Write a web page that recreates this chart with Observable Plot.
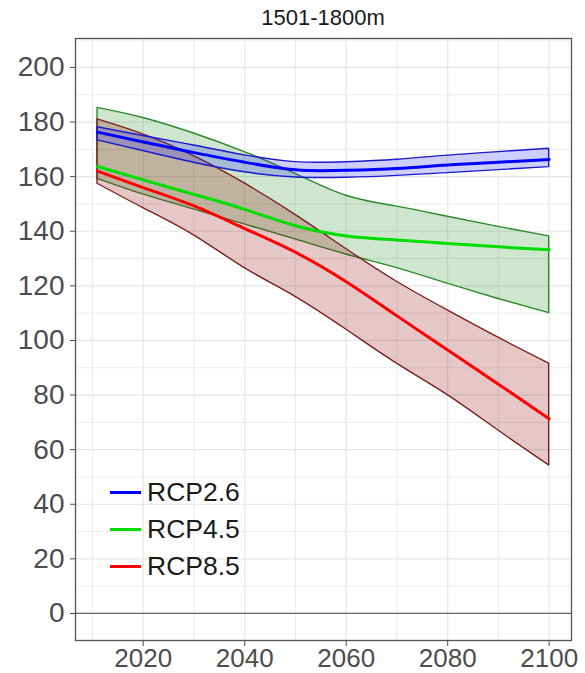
<!DOCTYPE html>
<html><head><meta charset="utf-8">
<script src="https://cdn.jsdelivr.net/npm/d3@7"></script>
<script src="https://cdn.jsdelivr.net/npm/@observablehq/plot@0.6"></script>
<style>
body{margin:0;background:#fff;}
#wrap{position:relative;width:585px;height:673px;font-family:"Liberation Sans",Arial,sans-serif;}
#title{position:absolute;left:75px;width:496px;top:5px;text-align:center;font-size:22px;color:#1a1a1a;}
#legend{position:absolute;left:110px;top:474px;}
.row{display:flex;align-items:center;height:37px;font-size:26.5px;color:#1a1a1a;}
.sw{width:31px;height:3.5px;margin-right:6px;}
</style></head><body>
<div id="wrap"><div id="chart"></div><div id="title">1501-1800m</div><div id="legend"></div></div>
<script>
const years = [2011, 2020, 2030, 2040, 2050, 2060, 2070, 2080, 2090, 2100];

const rcp26Hi   = [178.1, 174.9, 171.4, 167.8, 165.3, 165.3, 166.2, 167.7, 169.0, 170.2];
const rcp26Mean = [176.3, 172.7, 168.8, 165.3, 162.5, 162.3, 163.0, 164.3, 165.3, 166.3];
const rcp26Lo   = [173.3, 169.4, 165.1, 161.6, 159.7, 159.6, 160.3, 161.3, 162.4, 163.5];

const rcp45Hi   = [185.2, 181.5, 175.8, 169.0, 161.0, 153.0, 149.0, 145.3, 141.6, 138.1];
const rcp45Mean = [163.7, 158.8, 153.5, 148.0, 142.0, 138.3, 136.8, 135.5, 134.3, 133.2];
const rcp45Lo   = [159.2, 153.5, 148.0, 142.5, 137.0, 131.5, 126.5, 120.8, 115.2, 110.0];

const rcp85Hi   = [181.0, 175.5, 167.5, 157.5, 146.0, 133.5, 121.5, 111.0, 101.0, 91.5];
const rcp85Mean = [162.0, 156.0, 149.3, 141.0, 132.3, 121.5, 109.0, 96.5, 84.0, 71.3];
const rcp85Lo   = [157.4, 148.5, 138.5, 126.5, 116.0, 104.0, 91.5, 80.0, 67.0, 54.2];

const scenarios = ["RCP2.6", "RCP4.5", "RCP8.5"];
const xTicks = [2020, 2040, 2060, 2080, 2100];
const xMinor = [2010, 2030, 2050, 2070, 2090];
const yTicks = [0, 20, 40, 60, 80, 100, 120, 140, 160, 180, 200];
const yMinor = [10, 30, 50, 70, 90, 110, 130, 150, 170, 190, 210];

function table(hi, mean, lo) {
  return years.map((year, i) => ({year, hi: hi[i], mean: mean[i], lo: lo[i]}));
}
const d26 = table(rcp26Hi, rcp26Mean, rcp26Lo);
const d45 = table(rcp45Hi, rcp45Mean, rcp45Lo);
const d85 = table(rcp85Hi, rcp85Mean, rcp85Lo);

const lineColors = {"RCP2.6": "#0000ff", "RCP4.5": "#00dd00", "RCP8.5": "#ff0000"};
const curve = "natural";

const chart = Plot.plot({
  width: 585,
  height: 673,
  marginLeft: 75,
  marginRight: 14,
  marginTop: 38,
  marginBottom: 33,
  style: {fontFamily: "'Liberation Sans', Arial, sans-serif", fontSize: "28px", background: "#fff"},
  x: {domain: [2006.66, 2104.4]},
  y: {domain: [-9.9, 210.6]},
  marks: [
    Plot.gridX(xMinor, {stroke: "#ebebeb", strokeOpacity: 1, strokeWidth: 1}),
    Plot.gridX(xTicks, {stroke: "#e6e6e6", strokeOpacity: 1, strokeWidth: 1.2}),
    Plot.gridY(yMinor, {stroke: "#ebebeb", strokeOpacity: 1, strokeWidth: 1}),
    Plot.gridY(yTicks, {stroke: "#e6e6e6", strokeOpacity: 1, strokeWidth: 1.2}),
    Plot.ruleY([0], {stroke: "#666", strokeWidth: 1.2}),
    Plot.areaY(d45, {x: "year", y1: "lo", y2: "hi", fill: "#1e8c1e", fillOpacity: 0.22, stroke: "#2a8a2a", strokeWidth: 1.4, curve}),
    Plot.areaY(d85, {x: "year", y1: "lo", y2: "hi", fill: "#8b0000", fillOpacity: 0.22, stroke: "#7a2020", strokeWidth: 1.4, curve}),
    Plot.areaY(d26, {x: "year", y1: "lo", y2: "hi", fill: "#2020ff", fillOpacity: 0.22, stroke: "#1a1ad0", strokeWidth: 1.4, curve}),
    Plot.lineY(d45, {x: "year", y: "mean", stroke: lineColors["RCP4.5"], strokeWidth: 3, curve}),
    Plot.lineY(d85, {x: "year", y: "mean", stroke: lineColors["RCP8.5"], strokeWidth: 3, curve}),
    Plot.lineY(d26, {x: "year", y: "mean", stroke: lineColors["RCP2.6"], strokeWidth: 3, curve}),
    Plot.frame({stroke: "#555", strokeWidth: 1.3}),
    Plot.axisX(xTicks, {tickFormat: d => String(d), tickSize: 6, tickPadding: 2, fontSize: 26, label: null, color: "#4d4d4d"}),
    Plot.axisY(yTicks, {tickSize: 5, tickPadding: 6, label: null, color: "#4d4d4d"})
  ]
});
document.getElementById("chart").appendChild(chart);

const legend = document.getElementById("legend");
for (const s of scenarios) {
  const row = document.createElement("div");
  row.className = "row";
  const sw = document.createElement("span");
  sw.className = "sw";
  sw.style.background = lineColors[s];
  const t = document.createElement("span");
  t.textContent = s;
  row.appendChild(sw);
  row.appendChild(t);
  legend.appendChild(row);
}
</script>
</body></html>
